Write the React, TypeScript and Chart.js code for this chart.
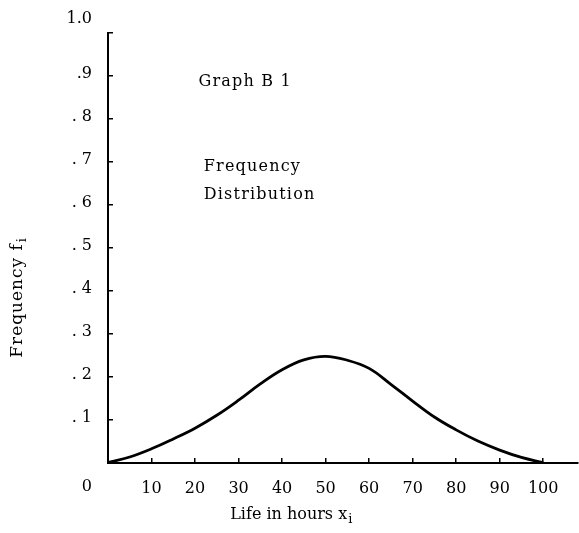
import React, { useEffect, useRef } from 'react';
import { Chart, registerables } from 'chart.js';

Chart.register(...registerables);

// ---- data ----
const hours = [0, 5, 10, 15, 20, 25, 30, 35, 40, 45, 50, 55, 60, 65, 70, 75, 80, 85, 90, 95, 100];
const frequency = [0.001, 0.014, 0.033, 0.056, 0.081, 0.111, 0.146, 0.184, 0.217, 0.24, 0.248, 0.239, 0.22, 0.183, 0.144, 0.107, 0.077, 0.051, 0.03, 0.013, 0.001];

const yTickValues = [0, 0.1, 0.2, 0.3, 0.4, 0.5, 0.6, 0.7, 0.8, 0.9, 1.0];
const yTickLabels = ['0', '. 1', '. 2', '. 3', '. 4', '. 5', '. 6', '. 7', '. 8', '.9', '1.0'];
const xTickValues = [10, 20, 30, 40, 50, 60, 70, 80, 90, 100];
const xTickLabels = ['10', '20', '30', '40', '50', '60', '70', '80', '90', '100'];

const xTitle = 'Life in hours x';
const yTitle = 'Frequency f';
const titleSub = 'i';

// annotation texts, anchored in data coordinates
const notes = [
  { text: 'Graph B 1', x: 20.8, y: 0.886 },
  { text: 'Frequency', x: 22, y: 0.688 },
  { text: 'Distribution', x: 22, y: 0.623 },
];

const FONT = '"DejaVu Serif", serif';

const textPlugin = {
  id: 'textPlugin',
  afterDraw(chart: any) {
    const { ctx, scales } = chart;
    const xs = scales.x;
    const ys = scales.y;
    ctx.save();
    ctx.fillStyle = '#000';
    ctx.textBaseline = 'middle';
    ctx.textAlign = 'left';
    ctx.font = `16px ${FONT}`;
    (ctx as any).letterSpacing = '1.2px';
    for (const n of notes) {
      ctx.fillText(n.text, xs.getPixelForValue(n.x), ys.getPixelForValue(n.y));
    }

    // x title with subscript
    (ctx as any).letterSpacing = '0px';
    const xtX = xs.getPixelForValue(42);
    const xtY = ys.getPixelForValue(-0.12);
    ctx.font = `16px ${FONT}`;
    const wMain = ctx.measureText(xTitle).width;
    ctx.font = `13px ${FONT}`;
    const wSub = ctx.measureText(titleSub).width;
    const startX = xtX - (wMain + wSub) / 2;
    ctx.font = `16px ${FONT}`;
    ctx.fillText(xTitle, startX, xtY);
    ctx.font = `13px ${FONT}`;
    ctx.fillText(titleSub, startX + wMain + 1, xtY + 5);

    // y title with subscript (rotated)
    (ctx as any).letterSpacing = '1px';
    const ytX = xs.getPixelForValue(-20.8);
    const ytY = ys.getPixelForValue(0.384);
    ctx.translate(ytX, ytY);
    ctx.rotate(-Math.PI / 2);
    ctx.font = `17px ${FONT}`;
    const wyMain = ctx.measureText(yTitle).width;
    ctx.font = `13px ${FONT}`;
    const wySub = ctx.measureText(titleSub).width;
    const sx = -(wyMain + wySub) / 2;
    ctx.font = `17px ${FONT}`;
    ctx.fillText(yTitle, sx, 0);
    ctx.font = `13px ${FONT}`;
    ctx.fillText(titleSub, sx + wyMain + 1, 5);
    ctx.restore();
  },
};

export default function App() {
  const ref = useRef<HTMLCanvasElement>(null);

  useEffect(() => {
    document.body.style.margin = '0';
    const canvas = ref.current;
    if (!canvas) return;
    const chart = new Chart(canvas, {
      type: 'line',
      data: {
        datasets: [
          {
            data: hours.map((h, i) => ({ x: h, y: frequency[i] })),
            borderColor: '#000',
            borderWidth: 2.8,
            pointRadius: 0,
            tension: 0.4,
            capBezierPoints: false,
            fill: false,
          },
        ],
      },
      options: {
        responsive: false,
        animation: false,
        events: [],
        layout: { padding: { top: 33, right: 1, left: 0, bottom: 0 } },
        plugins: { legend: { display: false }, tooltip: { enabled: false }, title: { display: false } },
        scales: {
          x: {
            type: 'linear',
            min: 0,
            max: 108,
            afterFit: (s: any) => { s.height = 70; s.paddingLeft = 0; s.paddingRight = 0; },
            afterBuildTicks: (s: any) => { s.ticks = xTickValues.map((v) => ({ value: v })); },
            ticks: {
              includeBounds: false,
              color: '#000',
              padding: 21,
              maxRotation: 0,
              autoSkip: false,
              font: { family: FONT, size: 16 },
              callback: (v: any) => {
                const i = xTickValues.indexOf(Number(v));
                return i >= 0 ? xTickLabels[i] : '';
              },
            },
            grid: { display: true, drawOnChartArea: false, drawTicks: true, tickLength: -5, color: '#000', lineWidth: 1.5 },
            border: { display: true, color: '#000', width: 2 },
          },
          y: {
            type: 'linear',
            min: 0,
            max: 1.0,
            afterFit: (s: any) => { s.width = 108; s.paddingTop = 0; s.paddingBottom = 0; },
            afterBuildTicks: (s: any) => { s.ticks = yTickValues.map((v) => ({ value: v })); },
            ticks: {
              color: '#000',
              padding: 21,
              labelOffset: -2,
              autoSkip: false,
              font: (c: any) => {
                const v = c.tick ? Math.round(c.tick.value * 10) : -1;
                return { family: FONT, size: 16, lineHeight: v === 0 ? '52px' : v === 10 ? '24px' : 1.2 };
              },
              callback: (v: any) => {
                const k = Math.round(Number(v) * 10);
                const lab = yTickLabels[k] ?? '';
                if (k === 0) return ['', lab];
                if (k === 10) return [lab, ''];
                return lab;
              },
            },
            grid: { display: true, drawOnChartArea: false, drawTicks: true, tickLength: -5, color: '#000', lineWidth: 1.5 },
            border: { display: true, color: '#000', width: 2 },
          },
        },
      },
      plugins: [textPlugin],
    } as any);
    return () => chart.destroy();
  }, []);

  return (
    <div style={{ position: 'absolute', left: 0, top: 0, width: 579, height: 533, background: '#fff' }}>
      <canvas ref={ref} width={579} height={533} />
    </div>
  );
}
